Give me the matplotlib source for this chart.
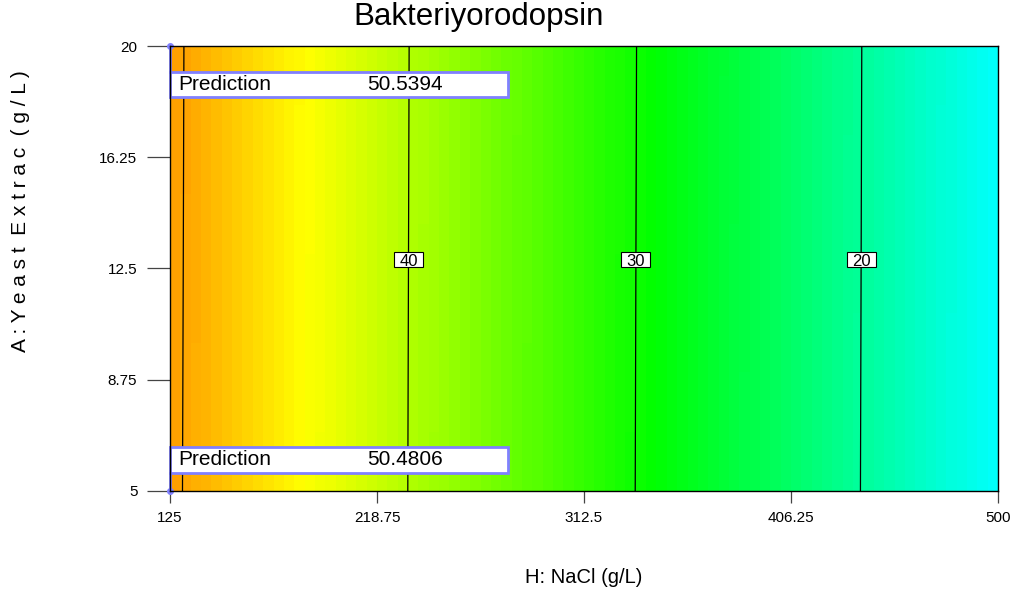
import numpy as np
import matplotlib
matplotlib.use("Agg")
import matplotlib.pyplot as plt
from matplotlib.colors import LinearSegmentedColormap, Normalize
from matplotlib.patches import Rectangle

plt.rcParams['font.family'] = ['Liberation Sans', 'DejaVu Sans']

# response read along NaCl (g/L), yeast extract at its centre value
nacl_points = [125, 131, 233, 336, 438, 500]
response_points = [50.51, 50.0, 40.0, 30.0, 20.0, 14.0]

# contour levels drawn, and which ones carry a label
contour_levels = [20, 30, 40, 50]
labelled_levels = [20, 30, 40]

# point predictions at the low-NaCl edge
pred_nacl = [125, 125]
pred_yeast = [5, 20]
pred_values = [50.4806, 50.5394]

x_ticks = [125, 218.75, 312.5, 406.25, 500]
y_ticks = [5, 8.75, 12.5, 16.25, 20]


def response(nacl, yeast):
    base = np.interp(nacl, nacl_points, response_points)
    slope = (pred_values[1] - pred_values[0]) / (pred_yeast[1] - pred_yeast[0])
    return base + slope * (yeast - 12.5)


fig = plt.figure(figsize=(10.21, 5.98), dpi=100)
ax = fig.add_axes([170 / 1021, 1 - 491 / 598, 828 / 1021, 445 / 598])

cmap = LinearSegmentedColormap.from_list(
    "de", ["#0000ff", "#00ffff", "#00ff00", "#ffff00", "#ff0000"])
norm = Normalize(vmin=-1.5, vmax=60)

# banded colour fill
xe = np.linspace(125, 500, 81)
ye = np.linspace(5, 20, 16)
xc = (xe[:-1] + xe[1:]) / 2
yc = (ye[:-1] + ye[1:]) / 2
XC, YC = np.meshgrid(xc, yc)
ax.pcolormesh(xe, ye, response(XC, YC), cmap=cmap, norm=norm, shading='flat', zorder=1)

# contour lines
xf = np.linspace(125, 500, 751)
yf = np.linspace(5, 20, 31)
XF, YF = np.meshgrid(xf, yf)
ax.contour(XF, YF, response(XF, YF), levels=contour_levels, colors='black',
           linewidths=0.9, zorder=2)

# contour labels in small white boxes
lab_w, lab_h, lab_y = 13.1, 0.5, 12.8
for lev in labelled_levels:
    xpos = np.interp(lev, response_points[::-1], nacl_points[::-1])
    ax.add_patch(Rectangle((xpos - lab_w / 2, lab_y - lab_h / 2), lab_w, lab_h,
                           fc='white', ec='black', lw=0.8, zorder=4))
    ax.text(xpos, lab_y, str(lev), fontsize=12, ha='center', va='center_baseline',
            zorder=5)

# prediction flags
pred_col = '#8080ff'
box_y = [5.62, 18.29]
for px, py, val, by in zip(pred_nacl, pred_yeast, pred_values, box_y):
    ax.add_patch(Rectangle((px, by), 153, 0.85, fc='white', ec=pred_col, lw=2,
                           zorder=5, clip_on=False))
    ax.text(px + 3.6, by + 0.425, "Prediction", fontsize=15, va='center', zorder=6)
    ax.text(px + 89.5, by + 0.425, f"{val:.4f}", fontsize=15, va='center', zorder=6)
    edge = by if py < by else by + 0.85
    ax.plot([px, px], [py, edge], color=pred_col, lw=2, zorder=5, clip_on=False)
    ax.plot([px], [py], 'o', color=pred_col, ms=4, zorder=6, clip_on=False)

ax.set_xlim(125, 500)
ax.set_ylim(5, 20)
ax.set_xticks(x_ticks)
ax.set_xticklabels([f"{v:g}" for v in x_ticks])
ax.set_yticks(y_ticks)
ax.set_yticklabels([f"{v:g}" for v in y_ticks])
ax.tick_params(axis='y', direction='out', length=16.5, width=0.9, color='#444444',
               pad=7, labelsize=11)
ax.tick_params(axis='x', direction='out', length=8.6, width=0.9, color='#444444',
               pad=6, labelsize=11)
for s in ax.spines.values():
    s.set_color('black')
    s.set_linewidth(1)
    s.set_zorder(7)

fig.text(479 / 1021, 1 - 25 / 598, "Bakteriyorodopsin", fontsize=22.5,
         ha='center', va='baseline')
fig.text(584 / 1021, 1 - 583 / 598, "H: NaCl (g/L)", fontsize=14.5,
         ha='center', va='baseline')
fig.text(21 / 1021, 1 - 211 / 598, "A : Y e a s t  E x t r a c  ( g / L )",
         fontsize=15, rotation=90, ha='center', va='center')

fig.savefig("out.png", dpi=100)
